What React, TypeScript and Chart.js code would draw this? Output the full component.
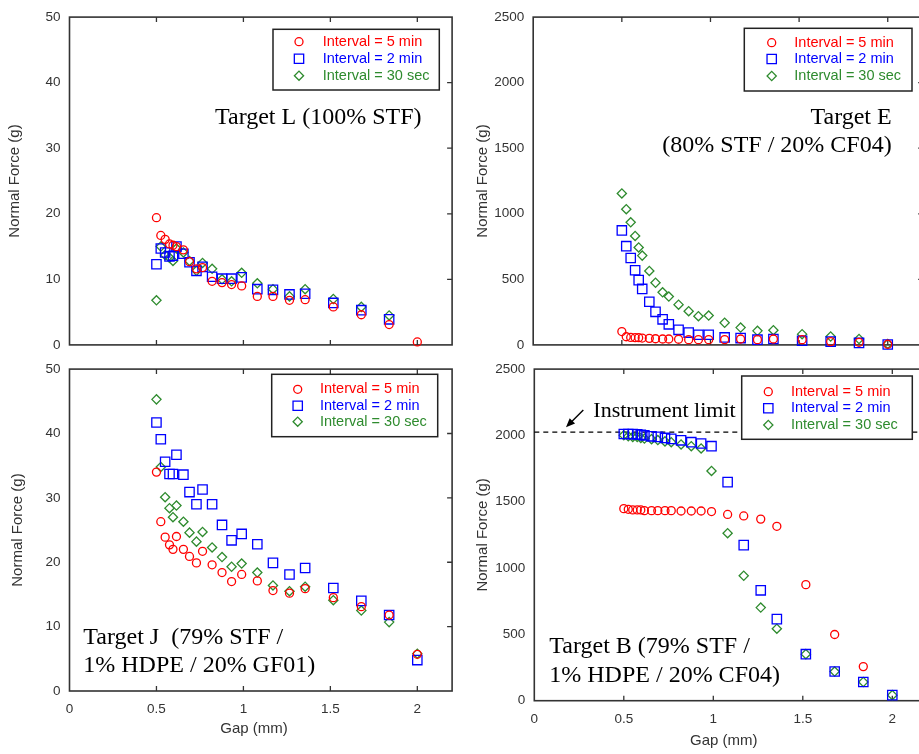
import React, { useEffect, useRef } from 'react';
import { Chart, registerables } from 'chart.js';

Chart.register(...registerables);

// ---------- data ----------
const gapMm = [0.5, 0.525, 0.55, 0.575, 0.595, 0.615, 0.655, 0.69, 0.73, 0.765, 0.82, 0.877, 0.932, 0.99, 1.08, 1.17, 1.265, 1.355, 1.517, 1.678, 1.838, 2.0];
const xTickValues = [0, 0.5, 1, 1.5, 2];
const seriesLabels = ['Interval = 5 min', 'Interval = 2 min', 'Interval = 30 sec'];

// Target L (100% STF)
const targetL5min = [19.4, 16.7, 16.1, 15.4, 15.2, 15.0, 14.5, 12.7, 11.6, 11.8, 9.7, 9.5, 9.2, 9.0, 7.4, 7.4, 6.8, 6.9, 5.8, 4.6, 3.1, 0.45];
const targetL2min = [12.3, 14.7, 14.1, 13.5, 13.6, 15.0, 13.9, 12.6, 11.3, 11.9, 10.4, 10.1, 10.1, 10.3, 8.5, 8.4, 7.7, 7.8, 6.4, 5.3, 3.9, null];
const targetL30sec = [6.8, 15.0, 13.7, 13.3, 12.8, 14.7, 14.1, 12.8, 11.3, 12.5, 11.6, 10.0, 9.7, 11.0, 9.4, 8.5, 7.4, 8.5, 7.0, 5.8, 4.5, null];

// Target E (80% STF / 20% CF04)
const targetE5min = [102, 62, 57, 55, 55, 52, 50, 47, 45, 45, 43, 40, 40, 40, 40, 45, 40, 45, 40, 25, 20, 5];
const targetE2min = [873, 753, 663, 569, 494, 427, 329, 252, 195, 157, 115, 94, 77, 77, 57, 52, 40, 45, 32, 25, 15, 3];
const targetE30sec = [1155, 1035, 935, 831, 743, 681, 564, 474, 401, 369, 307, 257, 219, 224, 169, 132, 107, 112, 82, 64, 45, 7];

// Target J (79% STF / 1% HDPE / 20% GF01)
const targetJ5min = [34.0, 26.3, 23.9, 22.7, 22.0, 24.0, 22.0, 20.9, 19.9, 21.7, 19.6, 18.4, 17.0, 18.1, 17.1, 15.6, 15.2, 15.9, 14.5, 13.1, 11.8, 5.7];
const targetJ2min = [41.7, 39.1, 35.6, 33.7, 33.7, 36.7, 33.6, 30.9, 29.0, 31.3, 29.0, 25.8, 23.4, 24.4, 22.8, 19.9, 18.1, 19.1, 16.0, 14.0, 11.8, 4.8];
const targetJ30sec = [45.3, 34.8, 30.1, 28.4, 27.0, 28.8, 26.3, 24.6, 23.2, 24.7, 22.3, 20.8, 19.3, 19.8, 18.4, 16.4, 15.5, 16.2, 14.1, 12.5, 10.7, 5.8];

// Target B (79% STF / 1% HDPE / 20% CF04)
const targetB5min = [1448, 1443, 1438, 1438, 1438, 1433, 1433, 1433, 1433, 1433, 1430, 1430, 1430, 1426, 1404, 1393, 1369, 1315, 875, 499, 257, null];
const targetB2min = [2011, 2011, 2010, 2008, 2005, 2000, 1993, 1989, 1981, 1974, 1963, 1949, 1939, 1919, 1648, 1173, 832, 615, 351, 220, 141, 42];
const targetB30sec = [2001, 1993, 1989, 1989, 1981, 1976, 1972, 1965, 1955, 1949, 1932, 1919, 1902, 1732, 1263, 942, 702, 543, 351, 220, 141, 42];

const instrumentLimitG = 2025;

// ---------- styles ----------
const seriesColors = ['#ff0000', '#0000ff', '#2e8b2e'];
const seriesShapes = ['circle', 'rect', 'rectRot'];
const seriesRadii = [4, 6.6, 4.6];
const sansFamily = '"Liberation Sans", Arial, Helvetica, sans-serif';
const serifFamily = '"Liberation Serif", "Times New Roman", Times, serif';
const axisColor = '#333333';

type Note = { text: string; x: number; y: number; align: CanvasTextAlign; size: number };

const panels = [
  {
    key: 'L', left: 0, top: 0, width: 460, height: 362,
    area: { l: 69.5, t: 15, r: 454.7, b: 345.7 },
    yMax: 50, yStep: 10, showX: false, yTitlePad: 5.5,
    series: [targetL5min, targetL2min, targetL30sec],
    legend: { x: 273, y: 29.3, w: 166.3, h: 60.7, mx: 299, tx: 322.7, rows: [41.7, 58.7, 75.7] },
    notes: [{ text: 'Target L (100% STF)', x: 215, y: 124, align: 'left', size: 24 }] as Note[],
  },
  {
    key: 'E', left: 460, top: 0, width: 475, height: 362,
    area: { l: 73.2, t: 15.7, r: 463.2, b: 349.3 },
    yMax: 2500, yStep: 500, showX: false, yTitlePad: 13.7,
    series: [targetE5min, targetE2min, targetE30sec],
    legend: { x: 284.3, y: 28.3, w: 167.7, h: 62.7, mx: 311.7, tx: 334.3, rows: [42.7, 59, 76] },
    notes: [
      { text: 'Target E', x: 431.7, y: 124, align: 'right', size: 24 },
      { text: '(80% STF / 20% CF04)', x: 431.7, y: 151.7, align: 'right', size: 24 },
    ] as Note[],
  },
  {
    key: 'J', left: 0, top: 352, width: 460, height: 402,
    area: { l: 69.5, t: 9.7, r: 454.5, b: 339 },
    yMax: 50, yStep: 10, showX: true, yTitlePad: 9.3,
    series: [targetJ5min, targetJ2min, targetJ30sec],
    legend: { x: 271.7, y: 22.3, w: 166, h: 62.4, mx: 297.7, tx: 320, rows: [37.3, 53.7, 69.7] },
    notes: [
      { text: 'Target J  (79% STF /', x: 83.3, y: 292, align: 'left', size: 24 },
      { text: '1% HDPE / 20% GF01)', x: 83.3, y: 319.7, align: 'left', size: 24 },
    ] as Note[],
    xTitle: { x: 254, y: 377 },
  },
  {
    key: 'B', left: 460, top: 352, width: 480, height: 402,
    area: { l: 74.3, t: 11.3, r: 468.1, b: 348.7 },
    yMax: 2500, yStep: 500, showX: true, yTitlePad: 13.7,
    series: [targetB5min, targetB2min, targetB30sec],
    legend: { x: 281.7, y: 24, w: 170.6, h: 63.3, mx: 308.3, tx: 331, rows: [39.7, 56.3, 73] },
    notes: [
      { text: 'Target B (79% STF /', x: 89.3, y: 301.3, align: 'left', size: 24 },
      { text: '1% HDPE / 20% CF04)', x: 89.3, y: 329.7, align: 'left', size: 24 },
      { text: 'Instrument limit', x: 133.3, y: 64.7, align: 'left', size: 22 },
    ] as Note[],
    xTitle: { x: 263.8, y: 389 },
    limit: instrumentLimitG,
    arrow: { x1: 123.3, y1: 58, x2: 106, y2: 75.3 },
  },
];

function drawMarker(ctx: CanvasRenderingContext2D, shape: string, x: number, y: number, r: number) {
  ctx.beginPath();
  if (shape === 'circle') {
    ctx.arc(x, y, r, 0, Math.PI * 2);
  } else if (shape === 'rect') {
    const s = r * Math.SQRT1_2;
    ctx.rect(x - s, y - s, 2 * s, 2 * s);
  } else {
    ctx.moveTo(x - r, y);
    ctx.lineTo(x, y - r);
    ctx.lineTo(x + r, y);
    ctx.lineTo(x, y + r);
    ctx.closePath();
  }
  ctx.stroke();
}

function makeDecor(p: any) {
  return {
    id: 'panelDecor' + p.key,
    beforeDatasetsDraw(chart: any) {
      const { ctx, chartArea: a, scales } = chart;
      const xs = scales.x;
      const ys = scales.y;
      ctx.save();
      // frame
      ctx.strokeStyle = axisColor;
      ctx.lineWidth = 1.6;
      ctx.strokeRect(a.left, a.top, a.right - a.left, a.bottom - a.top);
      // inward ticks
      ctx.lineWidth = 1.3;
      ctx.beginPath();
      xTickValues.forEach((v) => {
        if (v === 0) return;
        const px = xs.getPixelForValue(v);
        ctx.moveTo(px, a.top);
        ctx.lineTo(px, a.top + 5);
        ctx.moveTo(px, a.bottom);
        ctx.lineTo(px, a.bottom - 5);
      });
      ys.ticks.forEach((t: any) => {
        if (t.value === 0 || t.value === p.yMax) return;
        const py = ys.getPixelForValue(t.value);
        ctx.moveTo(a.right, py);
        ctx.lineTo(a.right - 5, py);
      });
      ctx.stroke();
      // instrument limit
      if (p.limit) {
        const py = ys.getPixelForValue(p.limit);
        ctx.strokeStyle = '#000';
        ctx.lineWidth = 1.3;
        ctx.setLineDash([5, 4]);
        ctx.beginPath();
        ctx.moveTo(a.left, py);
        ctx.lineTo(a.right, py);
        ctx.stroke();
        ctx.setLineDash([]);
      }
      ctx.restore();
    },
    afterDraw(chart: any) {
      const { ctx } = chart;
      ctx.save();
      // legend
      const lg = p.legend;
      ctx.fillStyle = '#fff';
      ctx.fillRect(lg.x, lg.y, lg.w, lg.h);
      ctx.strokeStyle = '#222';
      ctx.lineWidth = 1.5;
      ctx.strokeRect(lg.x, lg.y, lg.w, lg.h);
      chart.data.datasets.forEach((ds: any, i: number) => {
        ctx.strokeStyle = seriesColors[i];
        ctx.lineWidth = 1.3;
        drawMarker(ctx, seriesShapes[i], lg.mx, lg.rows[i], seriesRadii[i]);
        ctx.fillStyle = seriesColors[i];
        ctx.font = '14.5px ' + sansFamily;
        ctx.textAlign = 'left';
        ctx.textBaseline = 'middle';
        ctx.fillText(ds.label, lg.tx, lg.rows[i]);
      });
      // notes
      ctx.fillStyle = '#000';
      ctx.textBaseline = 'alphabetic';
      p.notes.forEach((n: Note) => {
        ctx.font = n.size + 'px ' + serifFamily;
        ctx.textAlign = n.align;
        ctx.fillText(n.text, n.x, n.y);
      });
      // arrow
      if (p.arrow) {
        const { x1, y1, x2, y2 } = p.arrow;
        const ang = Math.atan2(y2 - y1, x2 - x1);
        ctx.strokeStyle = '#000';
        ctx.lineWidth = 1.4;
        ctx.beginPath();
        ctx.moveTo(x1, y1);
        ctx.lineTo(x2 - Math.cos(ang) * 5, y2 - Math.sin(ang) * 5);
        ctx.stroke();
        ctx.fillStyle = '#000';
        ctx.beginPath();
        ctx.moveTo(x2, y2);
        ctx.lineTo(x2 - Math.cos(ang) * 9 + Math.sin(ang) * 3.8, y2 - Math.sin(ang) * 9 - Math.cos(ang) * 3.8);
        ctx.lineTo(x2 - Math.cos(ang) * 9 - Math.sin(ang) * 3.8, y2 - Math.sin(ang) * 9 + Math.cos(ang) * 3.8);
        ctx.closePath();
        ctx.fill();
      }
      // x axis title
      if (p.xTitle) {
        ctx.fillStyle = axisColor;
        ctx.font = '15px ' + sansFamily;
        ctx.textAlign = 'center';
        ctx.textBaseline = 'middle';
        ctx.fillText('Gap (mm)', p.xTitle.x, p.xTitle.y);
      }
      ctx.restore();
    },
  };
}

function makeConfig(p: any): any {
  const tickFont = { family: sansFamily, size: 13.5 };
  return {
    type: 'scatter',
    data: {
      datasets: p.series.map((vals: (number | null)[], i: number) => ({
        label: seriesLabels[i],
        data: gapMm
          .map((g, j) => ({ x: g, y: vals[j] }))
          .filter((d) => d.y !== null && d.y !== undefined),
        pointStyle: seriesShapes[i],
        pointRadius: seriesRadii[i],
        pointHoverRadius: seriesRadii[i],
        borderColor: seriesColors[i],
        backgroundColor: 'rgba(0,0,0,0)',
        pointBorderWidth: 1.3,
        showLine: false,
        clip: false,
      })),
    },
    options: {
      animation: false,
      responsive: false,
      devicePixelRatio: 1,
      events: [],
      layout: { padding: { left: 0, top: p.area.t, right: p.width - p.area.r, bottom: 0 } },
      plugins: { legend: { display: false }, tooltip: { enabled: false } },
      scales: {
        x: {
          type: 'linear',
          min: 0,
          max: 2.2,
          afterBuildTicks: (s: any) => {
            s.ticks = xTickValues.map((v) => ({ value: v }));
          },
          afterFit: (s: any) => {
            s.height = p.height - p.area.b;
          },
          grid: { display: false, drawTicks: false },
          border: { display: false },
          ticks: {
            display: p.showX,
            padding: 10,
            font: tickFont,
            color: axisColor,
            maxRotation: 0,
            callback: (v: number) => String(v),
          },
        },
        y: {
          type: 'linear',
          min: 0,
          max: p.yMax,
          afterFit: (s: any) => {
            s.width = p.area.l;
          },
          grid: { display: false, drawTicks: false },
          border: { display: false },
          ticks: {
            stepSize: p.yStep,
            padding: 9,
            font: tickFont,
            color: axisColor,
            callback: (v: number) => String(v),
          },
          title: {
            display: true,
            text: 'Normal Force (g)',
            color: axisColor,
            font: { family: sansFamily, size: 15 },
            padding: { top: p.yTitlePad, bottom: 0 },
          },
        },
      },
    },
    plugins: [makeDecor(p)],
  };
}

function Panel({ p }: { p: any }) {
  const ref = useRef<HTMLCanvasElement | null>(null);
  useEffect(() => {
    if (!ref.current) return;
    const chart = new Chart(ref.current, makeConfig(p));
    return () => chart.destroy();
  }, [p]);
  return (
    <canvas
      ref={ref}
      width={p.width}
      height={p.height}
      style={{ position: 'absolute', left: p.left, top: p.top, width: p.width, height: p.height }}
    />
  );
}

export default function App() {
  return (
    <div
      style={{
        position: 'absolute',
        left: 0,
        top: 0,
        width: 919,
        height: 754,
        overflow: 'hidden',
        background: '#fff',
      }}
    >
      {panels.map((p) => (
        <Panel key={p.key} p={p} />
      ))}
    </div>
  );
}
